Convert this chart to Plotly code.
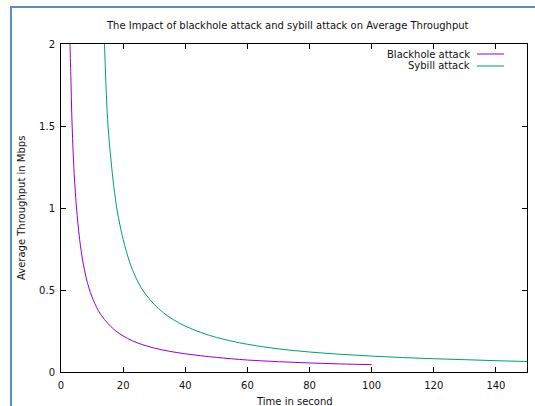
import plotly.graph_objects as go

# ---- data ----
blackhole_time = [2.5, 2.9, 3.2, 3.5, 4.0, 4.5, 5.0, 6.0, 7.0, 8.0, 9.0, 10.0, 12.0, 14.0,
                  16.0, 18.0, 20.0, 23.0, 26.0, 30.0, 35.0, 40.0, 45.0, 50.0, 60.0, 70.0,
                  80.0, 90.0, 100.0]
blackhole_tput = [2.45, 2.00, 1.78, 1.55, 1.30, 1.13, 1.00, 0.808, 0.677, 0.583, 0.512, 0.457,
                  0.375, 0.320, 0.278, 0.245, 0.220, 0.190, 0.168, 0.146, 0.126, 0.111,
                  0.099, 0.089, 0.073, 0.063, 0.055, 0.049, 0.045]

sybil_time = [13.5, 14.0, 15.0, 16.0, 17.0, 18.0, 19.0, 20.0, 22.0, 24.0, 26.0, 28.0, 30.0,
              33.0, 36.0, 40.0, 45.0, 50.0, 55.0, 60.0, 70.0, 80.0, 90.0, 100.0, 110.0,
              120.0, 130.0, 140.0, 150.0]
sybil_tput = [2.29, 2.00, 1.54, 1.31, 1.13, 0.994, 0.894, 0.81, 0.675, 0.58, 0.507, 0.456, 0.412,
              0.361, 0.321, 0.28, 0.241, 0.211, 0.188, 0.169, 0.141, 0.122, 0.108, 0.097, 0.088,
              0.081, 0.075, 0.069, 0.064]

series_names = ["Blackhole attack", "Sybill attack"]
series_colors = ["#9400d3", "#009e73"]

x_ticks = [0, 20, 40, 60, 80, 100, 120, 140]
y_ticks = [0, 0.5, 1, 1.5, 2]
y_tick_labels = ["0", "0.5", "1", "1.5", "2"]

title_text = "The Impact of blackhole attack and sybill attack on Average Throughput"
x_title = "Time in second"
y_title = "Average Throughput in Mbps"

# ---- layout geometry (pixels) ----
W, H = 535, 406
L, R, T, B = 61, 527, 44, 372
FONT = "DejaVu Sans"


def px(xp):
    return (xp - L) / (R - L)


def py(yp):
    return (B - yp) / (B - T)


fig = go.Figure()
for xs, ys, name, col in [(blackhole_time, blackhole_tput, series_names[0], series_colors[0]),
                          (sybil_time, sybil_tput, series_names[1], series_colors[1])]:
    fig.add_trace(go.Scatter(x=xs, y=ys, mode="lines", name=name,
                             line=dict(color=col, width=1, shape="spline", smoothing=1.0),
                             showlegend=False))

axis_common = dict(showline=True, linecolor="#000000", linewidth=1, mirror="allticks",
                   ticks="inside", ticklen=5, tickwidth=1, tickcolor="#000000",
                   showgrid=False, zeroline=False,
                   tickfont=dict(family=FONT, size=10, color="#111111"))

fig.update_xaxes(range=[0, 150], tickvals=x_ticks, ticktext=[str(v) for v in x_ticks],
                 ticklabelstandoff=4, **axis_common)
fig.update_yaxes(range=[0, 2], tickvals=y_ticks, ticktext=y_tick_labels,
                 ticklabelstandoff=3, **axis_common)

shapes = []
annotations = []
# manual gnuplot-style key: text right-aligned, sample line to the right
key_rows = [(54, series_names[0], series_colors[0]), (66, series_names[1], series_colors[1])]
for yp, name, col in key_rows:
    annotations.append(dict(x=px(472), y=py(yp), xref="paper", yref="paper",
                            text=name, showarrow=False, xanchor="right", yanchor="middle",
                            font=dict(family=FONT, size=10, color="#111111")))
    shapes.append(dict(type="line", xref="paper", yref="paper",
                       x0=px(477), x1=px(504), y0=py(yp), y1=py(yp),
                       line=dict(color=col, width=1)))

# axis titles
annotations.append(dict(x=0.5, y=py(401), xref="paper", yref="paper", text=x_title,
                        showarrow=False, xanchor="center", yanchor="middle",
                        font=dict(family=FONT, size=10, color="#111111")))
annotations.append(dict(x=px(21), y=0.5, xref="paper", yref="paper", text=y_title,
                        showarrow=False, xanchor="center", yanchor="middle", textangle=-90,
                        font=dict(family=FONT, size=10, color="#111111")))
# title
annotations.append(dict(x=px(287), y=py(26), xref="paper", yref="paper", text=title_text,
                        showarrow=False, xanchor="center", yanchor="middle",
                        font=dict(family=FONT, size=10, color="#111111")))

# blue window frame (left and top edges)
frame_col = "#5b8bc8"
shapes.append(dict(type="line", xref="paper", yref="paper", x0=px(11), x1=px(11),
                   y0=py(H + 5), y1=py(7), line=dict(color=frame_col, width=2)))
shapes.append(dict(type="line", xref="paper", yref="paper", x0=px(10), x1=px(W + 5),
                   y0=py(7), y1=py(7), line=dict(color=frame_col, width=2)))

fig.update_layout(width=W, height=H, margin=dict(l=L, r=W - R, t=T, b=H - B),
                  paper_bgcolor="white", plot_bgcolor="white",
                  shapes=shapes, annotations=annotations, showlegend=False)

fig.write_html("out.html")
